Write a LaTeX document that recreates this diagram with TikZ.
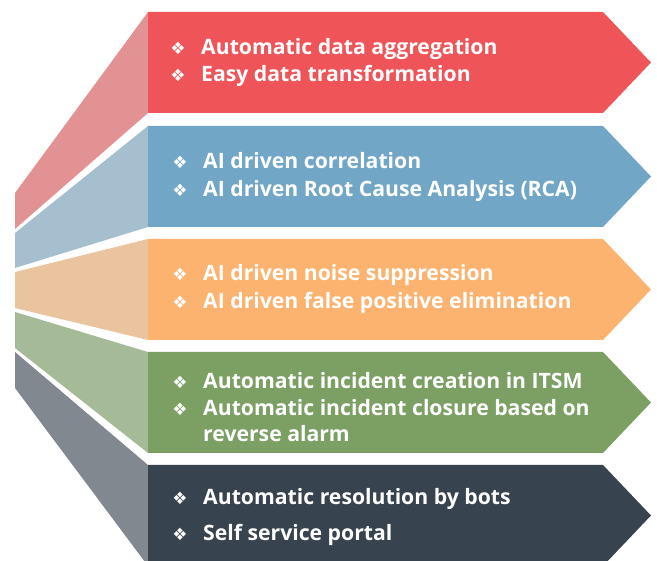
\documentclass[tikz,border=0pt]{standalone}
\usepackage{fontspec}
\setmainfont{Open Sans}
\newfontfamily\symfont{DejaVu Sans}
\definecolor{redD}{HTML}{EF5458}
\definecolor{redL}{HTML}{E39294}
\definecolor{bluD}{HTML}{71A6C7}
\definecolor{bluL}{HTML}{A6BFCF}
\definecolor{oraD}{HTML}{FBB36F}
\definecolor{oraL}{HTML}{EAC49E}
\definecolor{greD}{HTML}{7CA063}
\definecolor{greL}{HTML}{A5BA97}
\definecolor{darD}{HTML}{37434E}
\definecolor{darL}{HTML}{828890}
\begin{document}
\begin{tikzpicture}[x=1pt,y=-1pt,
  txt/.style={anchor=base west, inner sep=0pt, text=white, font=\fontsize{21.2}{24}\selectfont\bfseries},
  bul/.style={inner sep=0pt, text=white, font=\symfont\fontsize{17}{17}\selectfont}]
\useasboundingbox (0,0) rectangle (657,561);
\begin{scope}
\clip (0,0) rectangle (657,561);
% side panels
\fill[redL] (15,193) -- (148,12) -- (148,113) -- (15,229) -- cycle;
\fill[bluL] (15,233) -- (148,126) -- (148,227) -- (15,268) -- cycle;
\fill[oraL] (15,272) -- (148,239) -- (148,340) -- (15,308) -- cycle;
\fill[greL] (15,312) -- (148,352) -- (148,453) -- (15,348) -- cycle;
\fill[darL] (15,352) -- (148,465) -- (148,566) -- (15,388) -- cycle;
% arrows
\fill[redD] (148,12) -- (603,12) -- (651,62.5) -- (603,113) -- (148,113) -- cycle;
\fill[bluD] (148,126) -- (603,126) -- (651,176.5) -- (603,227) -- (148,227) -- cycle;
\fill[oraD] (148,239) -- (603,239) -- (651,289.5) -- (603,340) -- (148,340) -- cycle;
\fill[greD] (148,352) -- (603,352) -- (651,402.5) -- (603,453) -- (148,453) -- cycle;
\fill[darD] (148,465) -- (603,465) -- (651,515.5) -- (603,566) -- (148,566) -- cycle;
\end{scope}
% texts
\node[bul] (br1) at (178,48) {❖};
\node[txt] (r1) at (201,54.5) {Automatic data aggregation};
\node[bul] (br2) at (178,75) {❖};
\node[txt] (r2) at (201,81.5) {Easy data transformation};
\node[bul] (bb1) at (180,162) {❖};
\node[txt] (b1) at (203,168.5) {AI driven correlation};
\node[bul] (bb2) at (180,190) {❖};
\node[txt] (b2) at (203,196.5) {AI driven Root Cause Analysis (RCA)};
\node[bul] (bo1) at (180,274) {❖};
\node[txt] (o1) at (203,280.5) {AI driven noise suppression};
\node[bul] (bo2) at (180,302) {❖};
\node[txt] (o2) at (203,308.5) {AI driven false positive elimination};
\node[bul] (bg1) at (180,382) {❖};
\node[txt] (g1) at (203,388.5) {Automatic incident creation in ITSM};
\node[bul] (bg2) at (180,409) {❖};
\node[txt] (g2) at (203,415.5) {Automatic incident closure based on};
\node[txt] (g3) at (203,441.5) {reverse alarm};
\node[bul] (bd1) at (180,498) {❖};
\node[txt] (d1) at (203,504.5) {Automatic resolution by bots};
\node[bul] (bd2) at (180,534) {❖};
\node[txt] (d2) at (203,540.5) {Self service portal};
\end{tikzpicture}
\end{document}
